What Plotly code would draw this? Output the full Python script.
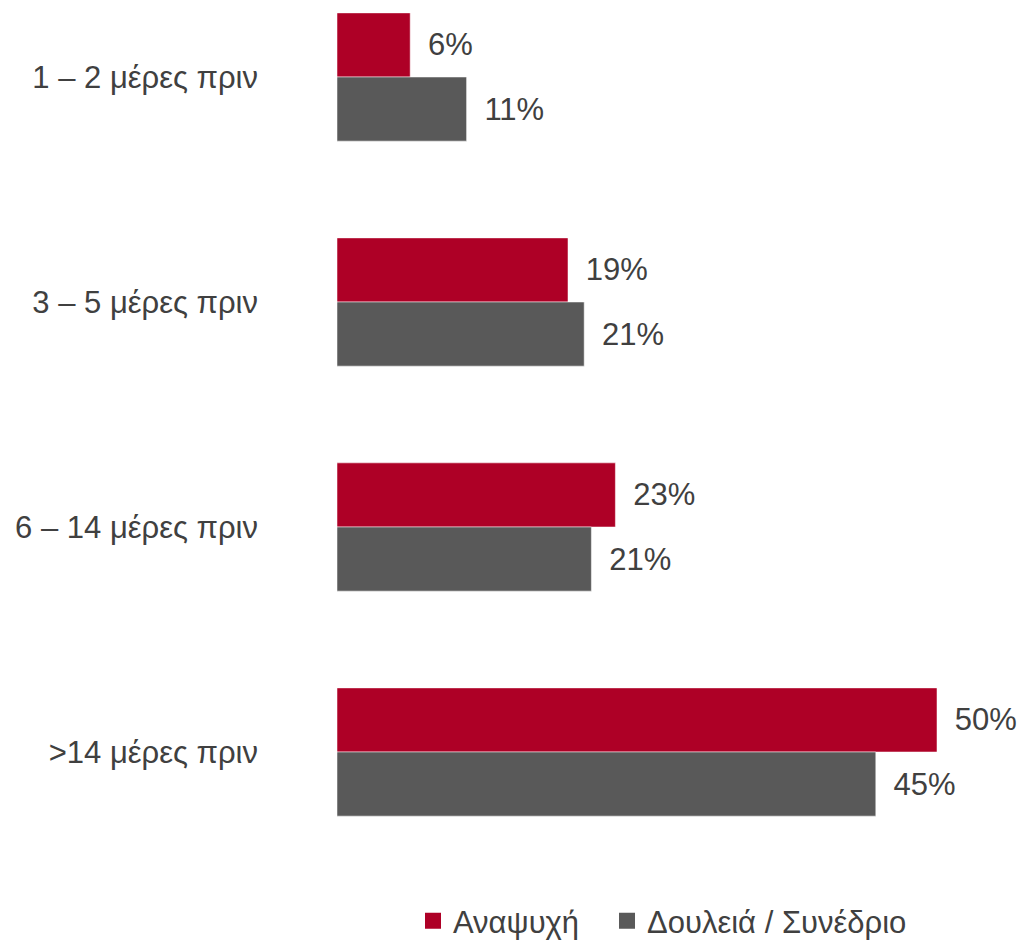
import plotly.graph_objects as go

categories = ["1 – 2 μέρες πριν", "3 – 5 μέρες πριν", "6 – 14 μέρες πριν", ">14 μέρες πριν"]
series_names = ["Αναψυχή", "Δουλειά / Συνέδριο"]
leisure = [6.1, 19.25, 23.2, 50.0]
business = [10.8, 20.6, 21.2, 44.9]

RED = "#AE0026"
GREY = "#595959"
TXT = "#404040"
FONT = "Liberation Sans, Arial, sans-serif"
FS = 31

fig = go.Figure()
for name, vals, col in [(series_names[0], leisure, RED), (series_names[1], business, GREY)]:
    fig.add_trace(go.Bar(
        y=categories, x=vals, name=name, orientation="h",
        marker=dict(color=col, line=dict(color="rgba(255,255,255,0.5)", width=1)),
        texttemplate=" \u2009%{x:.0f}%", textposition="outside", cliponaxis=False,
        textfont=dict(size=FS, color=TXT, family=FONT),
        hoverinfo="skip", showlegend=False,
    ))
# legend entries (square markers), each in its own legend box
for name, col, lg in [(series_names[0], RED, "legend"), (series_names[1], GREY, "legend2")]:
    fig.add_trace(go.Scatter(
        x=[None], y=[None], mode="markers", name=name,
        marker=dict(symbol="square", size=16, color=col),
        hoverinfo="skip", legend=lg,
    ))

leg_common = dict(orientation="h", y=-0.040, yanchor="top", xanchor="left",
                  font=dict(size=FS, color=TXT, family=FONT),
                  itemwidth=30, bgcolor="rgba(0,0,0,0)")

fig.update_layout(
    width=1021, height=941,
    barmode="group", bargap=0.43, bargroupgap=0,
    paper_bgcolor="white", plot_bgcolor="white",
    margin=dict(l=337, r=12, t=5, b=81, autoexpand=False),
    font=dict(family=FONT, size=FS, color=TXT),
    xaxis=dict(range=[0, 56], visible=False, showgrid=False, zeroline=False, automargin=False),
    yaxis=dict(type="category", categoryorder="array", categoryarray=categories,
               range=[3.48, -0.32], showgrid=False, zeroline=False, showline=False,
               automargin=False,
               ticks="", ticklabelstandoff=78, tickfont=dict(size=FS, color=TXT, family=FONT)),
    legend=dict(x=0.1131, **leg_common),
    legend2=dict(x=0.4018, **leg_common),
    showlegend=True,
)

fig.write_html("out.html", config={"displayModeBar": False},
               post_script="document.body.style.margin='0';document.body.style.padding='0';")
